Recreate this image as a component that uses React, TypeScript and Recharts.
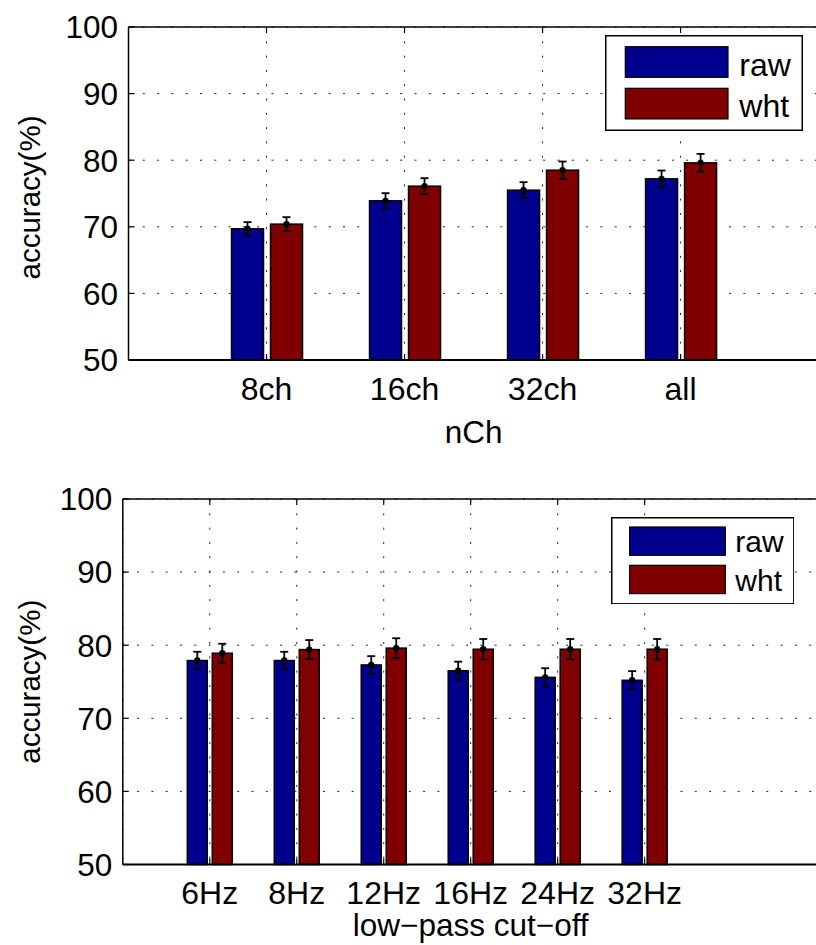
import React from "react";
import {
  ComposedChart,
  Bar,
  XAxis,
  YAxis,
  CartesianGrid,
  ErrorBar,
  Legend,
  ReferenceLine,
} from "recharts";

// top panel: number of channels
const chCategories = ["8ch", "16ch", "32ch", "all"];
const chRaw = [69.7, 73.9, 75.5, 77.2];
const chWht = [70.4, 76.1, 78.5, 79.6];
const chRawErr = [1.0, 1.15, 1.2, 1.25];
const chWhtErr = [1.05, 1.2, 1.3, 1.35];

// bottom panel: low-pass cut-off
const lpCategories = ["6Hz", "8Hz", "12Hz", "16Hz", "24Hz", "32Hz"];
const lpRaw = [77.9, 77.9, 77.3, 76.5, 75.6, 75.2];
const lpWht = [78.9, 79.4, 79.6, 79.45, 79.45, 79.45];
const lpRawErr = [1.2, 1.2, 1.2, 1.25, 1.25, 1.25];
const lpWhtErr = [1.3, 1.3, 1.35, 1.4, 1.4, 1.4];

const yTicks = [50, 60, 70, 80, 90, 100];
const seriesNames = ["raw", "wht"];

const FONT = '"Liberation Sans", Arial, Helvetica, sans-serif';
const BLUE = "#00008f";
const RED = "#800000";
const GRID_DASH = "2 12.3";

type LegendBox = {
  left: number;
  top: number;
  width: number;
  height: number;
  padX: number;
  swW: number;
  swH: number;
  swTop: number[];
  textX: number;
  baselines: number[];
  fontSize: number;
};

type PanelProps = {
  categories: string[];
  raw: number[];
  wht: number[];
  rawErr: number[];
  whtErr: number[];
  xMax: number;
  xLabel: string;
  top: number;
  height: number;
  marginTop: number;
  plotHeight: number;
  yAxisWidth: number;
  xTickMargin: number;
  xLabelOffset: number;
  yLabelShift: number;
  barSize: number;
  barGap: number;
  legend: LegendBox;
};

const barShape = (props: any) => {
  const { x, y, width, height, fill } = props;
  if (x == null || y == null) return null;
  return (
    <g>
      <rect
        x={x}
        y={y}
        width={width}
        height={height}
        fill={fill}
        stroke="#000"
        strokeWidth={1.5}
      />
      <circle cx={x + width / 2} cy={y} r={3.2} fill="#000" />
    </g>
  );
};

const Panel = (p: PanelProps) => {
  const data = p.categories.map((c, i) => ({
    x: i + 1,
    name: c,
    raw: p.raw[i],
    wht: p.wht[i],
    rawErr: p.rawErr[i],
    whtErr: p.whtErr[i],
  }));
  const xTicks = p.categories.map((_, i) => i + 1);
  const xTickMargin = p.xTickMargin;
  const yTickMargin = 10.5;
  const plotTop = p.marginTop;

  const XTick = (props: any) => {
    const { x, y, payload } = props;
    const axisY = y - xTickMargin;
    return (
      <g>
        <line x1={x} x2={x} y1={axisY} y2={axisY - 6} stroke="#000" strokeWidth={1.2} />
        <line x1={x} x2={x} y1={plotTop} y2={plotTop + 6} stroke="#000" strokeWidth={1.2} />
        <text
          x={x}
          y={y}
          dy="0.72em"
          textAnchor="middle"
          fontSize={32}
          fontFamily={FONT}
          fill="#000"
        >
          {p.categories[payload.value - 1]}
        </text>
      </g>
    );
  };

  const YTick = (props: any) => {
    const { x, y, payload } = props;
    const axisX = x + yTickMargin;
    return (
      <g>
        <line x1={axisX} x2={axisX + 6} y1={y} y2={y} stroke="#000" strokeWidth={1.2} />
        <text
          x={x}
          y={y}
          dy="0.36em"
          textAnchor="end"
          fontSize={31.5}
          fontFamily={FONT}
          fill="#000"
        >
          {payload.value}
        </text>
      </g>
    );
  };

  const yLabel = (props: any) => {
    const vb = props.viewBox || {};
    const cx = 32;
    const cy =
      (vb.y != null ? vb.y + vb.height / 2 : plotTop + p.plotHeight / 2) +
      p.yLabelShift;
    return (
      <text
        x={cx}
        y={cy}
        dy="0.27em"
        transform={`rotate(-90 ${cx} ${cy})`}
        textAnchor="middle"
        fontSize={29.5}
        fontFamily={FONT}
        fill="#000"
      >
        accuracy(%)
      </text>
    );
  };

  const lg = p.legend;
  const renderLegend = (props: any) => {
    const payload = props.payload || [];
    return (
      <svg width={lg.width} height={lg.height} style={{ display: "block" }}>
        <rect
          x={0.75}
          y={0.75}
          width={lg.width - 1.5}
          height={lg.height - 1.5}
          fill="#fff"
          stroke="#000"
          strokeWidth={1.5}
        />
        {payload.map((item: any, i: number) => (
          <g key={item.value}>
            <rect
              x={lg.padX}
              y={lg.swTop[i]}
              width={lg.swW}
              height={lg.swH}
              fill={item.color}
              stroke="#000"
              strokeWidth={1.2}
            />
            <text
              x={lg.textX}
              y={lg.baselines[i]}
              fontSize={lg.fontSize}
              fontFamily={FONT}
              fill="#000"
            >
              {item.value}
            </text>
          </g>
        ))}
      </svg>
    );
  };

  return (
    <div style={{ position: "absolute", left: 0, top: p.top }}>
      <ComposedChart
        width={830}
        height={p.height}
        data={data}
        barGap={p.barGap}
        margin={{ top: p.marginTop, right: 830 - 818.6, left: 0, bottom: 0 }}
      >
        <CartesianGrid
          stroke="#222"
          strokeWidth={1}
          strokeDasharray={GRID_DASH}
        />
        <XAxis
          dataKey="x"
          type="number"
          domain={[0, p.xMax]}
          ticks={xTicks}
          interval={0}
          height={p.height - p.marginTop - p.plotHeight}
          tickSize={0}
          tickMargin={xTickMargin}
          tickLine={false}
          tick={<XTick />}
          axisLine={{ stroke: "#000", strokeWidth: 2 }}
          label={{
            value: p.xLabel,
            position: "insideBottom",
            offset: p.xLabelOffset,
            fontSize: 31.5,
            fontFamily: FONT,
            fill: "#000",
          }}
        />
        <YAxis
          type="number"
          domain={[50, 100]}
          ticks={yTicks}
          interval={0}
          width={p.yAxisWidth}
          tickSize={0}
          tickMargin={yTickMargin}
          tickLine={false}
          tick={<YTick />}
          axisLine={{ stroke: "#000", strokeWidth: 1.5 }}
          label={yLabel}
        />
        <ReferenceLine y={100} stroke="#000" strokeWidth={1.5} />
        <ReferenceLine x={p.xMax} stroke="#000" strokeWidth={1.5} />
        <Legend
          layout="vertical"
          align="center"
          verticalAlign="middle"
          content={renderLegend}
          wrapperStyle={{
            left: lg.left,
            top: lg.top - p.top,
            width: lg.width,
            height: lg.height,
          }}
        />
        <Bar
          dataKey="raw"
          name={seriesNames[0]}
          fill={BLUE}
          barSize={p.barSize}
          shape={barShape}
          isAnimationActive={false}
        >
          <ErrorBar dataKey="rawErr" width={4} stroke="#000" strokeWidth={1.8} direction="y" />
        </Bar>
        <Bar
          dataKey="wht"
          name={seriesNames[1]}
          fill={RED}
          barSize={p.barSize}
          shape={barShape}
          isAnimationActive={false}
        >
          <ErrorBar dataKey="whtErr" width={4} stroke="#000" strokeWidth={1.8} direction="y" />
        </Bar>
      </ComposedChart>
    </div>
  );
};

const App = () => {
  return (
    <div
      style={{
        position: "absolute",
        left: 0,
        top: 0,
        width: 816,
        height: 945,
        overflow: "hidden",
        background: "#fff",
        fontFamily: FONT,
      }}
    >
      <Panel
        categories={chCategories}
        raw={chRaw}
        wht={chWht}
        rawErr={chRawErr}
        whtErr={chWhtErr}
        xMax={5}
        xLabel="nCh"
        top={0}
        height={470}
        marginTop={27}
        plotHeight={333}
        yAxisWidth={128.5}
        xTickMargin={17}
        xLabelOffset={26.7}
        yLabelShift={4}
        barSize={32}
        barGap={7}
        legend={{
          left: 604.7,
          top: 35,
          width: 198,
          height: 96,
          padX: 20.3,
          swW: 102.7,
          swH: 30.6,
          swTop: [11.7, 53.3],
          textX: 134.3,
          baselines: [40.7, 82],
          fontSize: 32,
        }}
      />
      <Panel
        categories={lpCategories}
        raw={lpRaw}
        wht={lpWht}
        rawErr={lpRawErr}
        whtErr={lpWhtErr}
        xMax={8}
        xLabel={"low\u2212pass cut\u2212off"}
        top={470}
        height={475}
        marginTop={29}
        plotHeight={365.5}
        yAxisWidth={122.8}
        xTickMargin={16}
        xLabelOffset={9}
        yLabelShift={0}
        barSize={20}
        barGap={5}
        legend={{
          left: 610.7,
          top: 516.7,
          width: 183.6,
          height: 87.6,
          padX: 18.6,
          swW: 95.7,
          swH: 28.3,
          swTop: [10, 48.3],
          textX: 124.3,
          baselines: [35, 74.3],
          fontSize: 30,
        }}
      />
    </div>
  );
};

export default App;
